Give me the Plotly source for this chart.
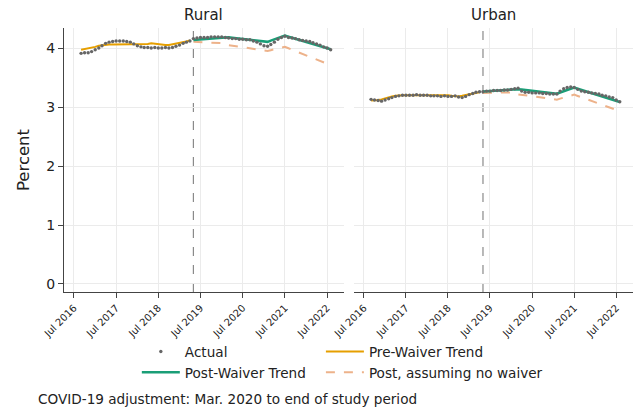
import pandas as pd
import plotly.graph_objects as go

# Monthly study period: Sep 2016 - Aug 2022; waiver takes effect May 2019
months = pd.date_range("2016-09-01", "2022-08-01", freq="MS")
waiver_date = "2019-05-01"
n_pre = 32
pre_months = months[:n_pre]
post_months = months[n_pre:]

# ---- Rural ----
rural_actual = [
    3.91, 3.92, 3.92, 3.94, 3.97, 4.00, 4.04, 4.08, 4.10, 4.11, 4.12, 4.12,
    4.12, 4.11, 4.10, 4.07, 4.04, 4.02, 4.01, 4.01, 4.00, 4.01, 4.00, 4.00,
    4.01, 4.00, 4.01, 4.03, 4.05, 4.08, 4.10, 4.12,
    4.16, 4.17, 4.18, 4.18, 4.18, 4.19, 4.19, 4.19, 4.19, 4.18, 4.17, 4.16,
    4.16, 4.15, 4.15, 4.14, 4.14, 4.12, 4.10, 4.07, 4.04, 4.03, 4.06, 4.10,
    4.15, 4.18, 4.20, 4.18, 4.17, 4.16, 4.14, 4.13, 4.12, 4.11, 4.09, 4.07,
    4.05, 4.02, 4.00, 3.97,
]
rural_pre_trend = [
    3.97, 3.98, 3.99, 4.00, 4.02, 4.04, 4.05, 4.06, 4.06, 4.06, 4.06, 4.06,
    4.06, 4.06, 4.06, 4.06, 4.06, 4.06, 4.07, 4.07, 4.08, 4.07, 4.06, 4.05,
    4.05, 4.05, 4.06, 4.07, 4.08, 4.10, 4.11, 4.13,
]
rural_post_trend = [
    4.135, 4.141, 4.147, 4.153, 4.159, 4.166, 4.172, 4.178, 4.184, 4.190,
    4.183, 4.176, 4.169, 4.162, 4.154, 4.147, 4.140, 4.133, 4.126, 4.119,
    4.112, 4.105, 4.126, 4.147, 4.168, 4.189, 4.210, 4.192, 4.175, 4.157,
    4.139, 4.122, 4.104, 4.086, 4.068, 4.051, 4.033, 4.015, 3.998, 3.980,
]
rural_no_waiver = [
    4.105, 4.102, 4.099, 4.097, 4.094, 4.091, 4.088, 4.086, 4.083, 4.080,
    4.050, 4.041, 4.032, 4.023, 4.014, 4.005, 3.995, 3.986, 3.977, 3.968,
    3.959, 3.950, 3.964, 3.978, 3.992, 4.006, 4.020, 3.996, 3.972, 3.949,
    3.925, 3.901, 3.877, 3.853, 3.829, 3.806, 3.782, 3.758, 3.734, 3.710,
]

# ---- Urban ----
urban_actual = [
    3.13, 3.12, 3.11, 3.10, 3.12, 3.14, 3.16, 3.18, 3.19, 3.20, 3.20, 3.20,
    3.20, 3.21, 3.20, 3.20, 3.20, 3.19, 3.19, 3.19, 3.18, 3.19, 3.18, 3.18,
    3.19, 3.17, 3.16, 3.18, 3.21, 3.23, 3.25, 3.26,
    3.26, 3.27, 3.27, 3.28, 3.28, 3.28, 3.29, 3.29, 3.30, 3.31, 3.32, 3.27,
    3.25, 3.25, 3.24, 3.24, 3.24, 3.23, 3.23, 3.22, 3.22, 3.22, 3.27, 3.31,
    3.33, 3.34, 3.33, 3.30, 3.27, 3.26, 3.25, 3.24, 3.23, 3.22, 3.20, 3.19,
    3.17, 3.16, 3.12, 3.09,
]
urban_pre_trend = [
    3.11, 3.11, 3.12, 3.13, 3.15, 3.16, 3.18, 3.19, 3.20, 3.20, 3.20, 3.20,
    3.20, 3.20, 3.20, 3.20, 3.20, 3.205, 3.21, 3.21, 3.21, 3.21, 3.20, 3.19,
    3.18, 3.18, 3.19, 3.20, 3.21, 3.22, 3.24, 3.25,
]
urban_post_trend = [
    3.265, 3.270, 3.275, 3.280, 3.285, 3.290, 3.295, 3.300, 3.305, 3.310,
    3.303, 3.296, 3.289, 3.282, 3.275, 3.268, 3.260, 3.253, 3.246, 3.239,
    3.232, 3.225, 3.246, 3.267, 3.288, 3.309, 3.330, 3.311, 3.292, 3.273,
    3.255, 3.236, 3.217, 3.198, 3.179, 3.160, 3.141, 3.123, 3.104, 3.085,
]
urban_no_waiver = [
    3.240, 3.241, 3.242, 3.243, 3.244, 3.246, 3.247, 3.248, 3.249, 3.250,
    3.215, 3.207, 3.199, 3.190, 3.182, 3.174, 3.166, 3.158, 3.149, 3.141,
    3.133, 3.125, 3.142, 3.159, 3.176, 3.193, 3.210, 3.188, 3.166, 3.144,
    3.122, 3.100, 3.078, 3.056, 3.034, 3.012, 2.990, 2.968, 2.946, 2.930,
]

tick_dates = ["2016-07-01", "2017-07-01", "2018-07-01", "2019-07-01",
              "2020-07-01", "2021-07-01", "2022-07-01"]
tick_labels = ["Jul 2016", "Jul 2017", "Jul 2018", "Jul 2019",
               "Jul 2020", "Jul 2021", "Jul 2022"]
y_ticks = [0, 1, 2, 3, 4]

panel_titles = ["Rural", "Urban"]
caption = "COVID-19 adjustment: Mar. 2020 to end of study period"

C_ACTUAL = "#666666"
C_PRE = "#E69F00"
C_POST = "#1a9e77"
C_NOWAIVER = "#EDB28A"
FONT = "DejaVu Sans"
LEGEND_SIZE = 13.6

fig = go.Figure()

panels = [
    ("x", "y", rural_actual, rural_pre_trend, rural_post_trend, rural_no_waiver),
    ("x2", "y2", urban_actual, urban_pre_trend, urban_post_trend, urban_no_waiver),
]
for k, (xa, ya, actual, pre_t, post_t, nowaiver) in enumerate(panels):
    first = k == 0
    fig.add_trace(go.Scatter(
        x=post_months, y=nowaiver, mode="lines", name="Post, assuming no waiver",
        line=dict(color=C_NOWAIVER, width=2, dash="dash"),
        xaxis=xa, yaxis=ya, showlegend=first, legend="legend2",
        legendgroup="nowaiver", legendrank=4))
    fig.add_trace(go.Scatter(
        x=pre_months, y=pre_t, mode="lines", name="Pre-Waiver Trend",
        line=dict(color=C_PRE, width=2),
        xaxis=xa, yaxis=ya, showlegend=first, legend="legend2",
        legendgroup="pre", legendrank=2))
    fig.add_trace(go.Scatter(
        x=post_months, y=post_t, mode="lines", name="Post-Waiver Trend",
        line=dict(color=C_POST, width=2.5),
        xaxis=xa, yaxis=ya, showlegend=first, legend="legend",
        legendgroup="post", legendrank=3))
    fig.add_trace(go.Scatter(
        x=months, y=actual, mode="markers", name="Actual",
        marker=dict(color=C_ACTUAL, size=3.4),
        xaxis=xa, yaxis=ya, showlegend=first, legend="legend",
        legendgroup="actual", legendrank=1))

    # waiver start marker
    fig.add_shape(type="line", xref=xa, yref=f"{ya} domain",
                  x0=waiver_date, x1=waiver_date, y0=0, y1=1,
                  line=dict(color="#8a8a8a", width=1.2, dash="dash"), layer="below")

x_common = dict(
    type="date", range=["2016-04-06", "2022-11-24"],
    tickmode="array", tickvals=tick_dates, ticktext=tick_labels,
    tickangle=-45, tickfont=dict(size=10, color="#222"),
    ticks="outside", ticklen=5, tickcolor="#444",
    showline=True, linecolor="#444", linewidth=1.3,
    showgrid=True, gridcolor="#ebebeb", gridwidth=1, zeroline=False,
)
y_common = dict(
    range=[-0.136, 4.34], tickmode="array", tickvals=y_ticks,
    showgrid=True, gridcolor="#ebebeb", gridwidth=1, zeroline=False,
)

legend_common = dict(
    y=-0.1674, xanchor="left", yanchor="top", orientation="v",
    font=dict(size=LEGEND_SIZE, color="#222"),
    itemwidth=38, tracegroupgap=0, bgcolor="rgba(0,0,0,0)",
    traceorder="grouped",
)

fig.update_layout(
    width=639, height=410,
    margin=dict(l=64, r=6, t=28, b=118),
    plot_bgcolor="white", paper_bgcolor="white",
    font=dict(family=FONT, color="#222"),
    xaxis=dict(domain=[0, 0.492], anchor="y", **x_common),
    xaxis2=dict(domain=[0.5097, 1], anchor="y2", **x_common),
    yaxis=dict(anchor="x", ticks="outside", ticklen=5, tickcolor="#444",
               showline=True, linecolor="#444", linewidth=1.3,
               tickfont=dict(size=14, color="#222"),
               title=dict(text="Percent", font=dict(size=16.5, color="#222"), standoff=12),
               **y_common),
    yaxis2=dict(anchor="x2", matches="y", showticklabels=False, ticks="",
                showline=False, **y_common),
    legend=dict(x=0.128, **legend_common),
    legend2=dict(x=0.4515, **legend_common),
)

# panel titles
for title, cx in zip(panel_titles, [0.246, 0.7548]):
    fig.add_annotation(text=title, xref="paper", yref="paper", x=cx, y=1.0,
                       yshift=13, xanchor="center", yanchor="middle",
                       showarrow=False, font=dict(size=15, color="#222"))

fig.add_annotation(text=caption, xref="paper", yref="paper",
                   x=(36 - 64) / 569, y=(292 - 399) / 264,
                   xanchor="left", yanchor="middle", showarrow=False,
                   font=dict(size=LEGEND_SIZE, color="#222"))

fig.write_html("out.html")
